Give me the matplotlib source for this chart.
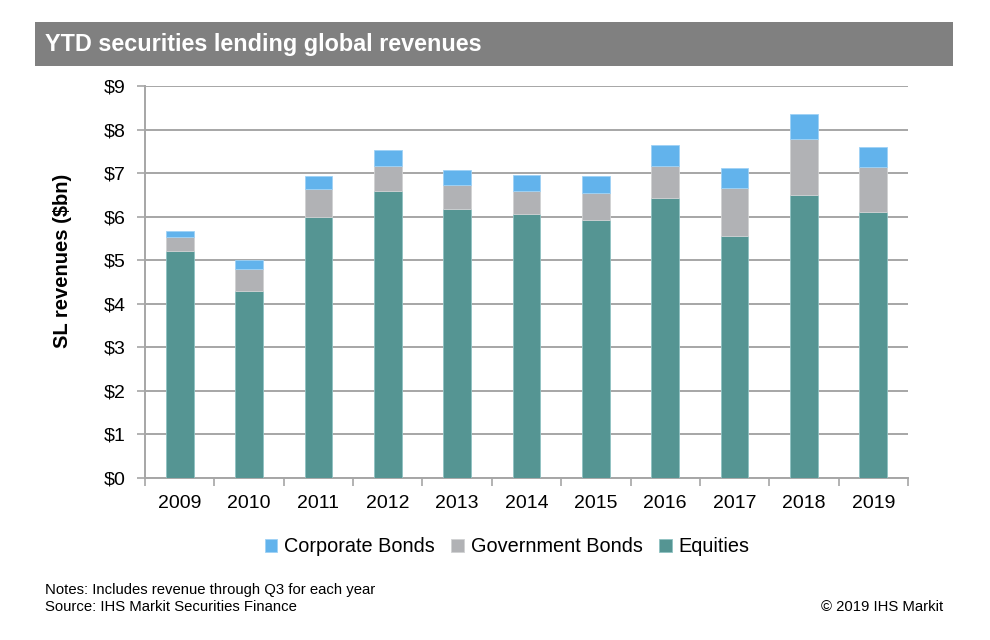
import matplotlib.pyplot as plt
import numpy as np
from matplotlib.patches import Rectangle

plt.rcParams["font.family"] = ["Liberation Sans", "DejaVu Sans"]

years = ["2009", "2010", "2011", "2012", "2013", "2014",
         "2015", "2016", "2017", "2018", "2019"]
# revenue by asset class, $bn
equities = [5.21, 4.29, 5.99, 6.59, 6.18, 6.06, 5.92, 6.43, 5.56, 6.50, 6.11]
government = [0.32, 0.51, 0.64, 0.57, 0.55, 0.53, 0.62, 0.73, 1.10, 1.28, 1.03]
corporate = [0.14, 0.20, 0.30, 0.37, 0.34, 0.37, 0.39, 0.48, 0.46, 0.58, 0.46]
ticks = [0, 1, 2, 3, 4, 5, 6, 7, 8, 9]

c_eq = "#559593"
c_gov = "#b1b2b5"
c_corp = "#62b3ec"
c_grid = "#a6a6a6"

fig = plt.figure(figsize=(9.9, 6.4), dpi=100)
ax = fig.add_axes([145 / 990, 1 - 478 / 640, (908 - 145) / 990, (478 - 86) / 640])

x = np.arange(len(years))
eq = np.array(equities)
gov = np.array(government)
corp = np.array(corporate)
w = 0.4
ax.bar(x, eq, w, color=c_eq, edgecolor="#8fc3c3", linewidth=0.6, label="Equities", zorder=3)
ax.bar(x, gov, w, bottom=eq, color=c_gov, edgecolor="#d0d1d3", linewidth=0.6,
       label="Government Bonds", zorder=3)
ax.bar(x, corp, w, bottom=eq + gov, color=c_corp, edgecolor="#9fd2f5", linewidth=0.6,
       label="Corporate Bonds", zorder=3)

ax.set_xlim(-0.5, len(years) - 0.5)
ax.set_ylim(0, 9)
ax.set_yticks(ticks)
ax.set_yticklabels(["$%d" % t for t in ticks])
ax.set_xticks(x)
ax.set_xticklabels(years)
ax.set_xticks(np.arange(len(years) + 1) - 0.5, minor=True)
ax.yaxis.grid(True, color=c_grid, linewidth=1.4, zorder=0)
ax.set_axisbelow(True)
for s in ["top", "right"]:
    ax.spines[s].set_visible(False)
for s in ["left", "bottom"]:
    ax.spines[s].set_color(c_grid)
    ax.spines[s].set_linewidth(1.4)
ax.tick_params(axis="y", length=6, color=c_grid, width=1.2, labelsize=14, pad=8)
ax.tick_params(axis="x", which="major", length=0, labelsize=14, pad=12)
ax.tick_params(axis="x", which="minor", length=6, color=c_grid, width=1.2)

fig.text(63 / 990, 1 - 261 / 640, "SL revenues ($bn)", fontsize=14.5, fontweight="bold",
         rotation=90, ha="center", va="center")

# title bar
fig.patches.append(Rectangle((35 / 990, 1 - 66 / 640), (953 - 35) / 990, 44 / 640,
                             transform=fig.transFigure, facecolor="#808080",
                             edgecolor="none"))
fig.text(45 / 990, 1 - 45 / 640, "YTD securities lending global revenues", color="white",
         fontsize=16.8, fontweight="bold", va="center", ha="left")

handles, labels = ax.get_legend_handles_labels()
fig.legend(handles[::-1], labels[::-1], loc="center", bbox_to_anchor=(507 / 990, 1 - 547 / 640),
           ncol=3, frameon=False, fontsize=14.3, handlelength=0.65, handleheight=0.65,
           handletextpad=0.35, columnspacing=0.8)

fig.text(45 / 990, 1 - 590 / 640, "Notes: Includes revenue through Q3 for each year",
         fontsize=10.7, va="center")
fig.text(45 / 990, 1 - 607 / 640, "Source: IHS Markit Securities Finance",
         fontsize=10.7, va="center")
fig.text(943 / 990, 1 - 607 / 640, "\u00a9 2019 IHS Markit", fontsize=10.7,
         va="center", ha="right")

fig.savefig("out.png", dpi=100)
